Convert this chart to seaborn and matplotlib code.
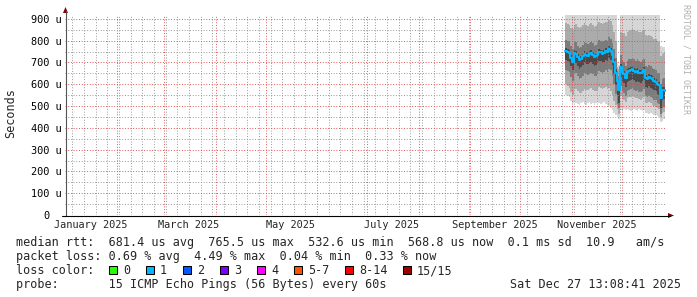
import matplotlib
matplotlib.use('Agg')
import matplotlib.pyplot as plt
import matplotlib.dates as mdates
import matplotlib.transforms as mtransforms
from matplotlib.ticker import MultipleLocator, FuncFormatter
from matplotlib.patches import Rectangle, Polygon
from matplotlib.lines import Line2D
import seaborn as sns
import pandas as pd

# ---------------- data (microseconds) ----------------
series_start = '2025-10-28'
median = [752, 748, 745, 722, 704, 743, 740, 725, 712, 718,
          728, 740, 735, 732, 738, 743, 736, 725, 728, 735,
          750, 746, 740, 745, 752, 748, 762, 755, 735, 700,
          652, 615, 575, 680, 658, 648, 629, 655, 660, 664,
          668, 662, 655, 660, 652, 650, 656, 664, 630, 626,
          634, 628, 622, 615, 612, 600, 596, 537, 572, 575,
          569]
outer_hi = [925, 930, 930, 930, 930, 930, 930, 930, 930, 930,
            930, 930, 930, 930, 930, 930, 930, 930, 930, 930,
            930, 930, 930, 930, 930, 930, 930, 930, 930, 930,
            930, 700, 690, 930, 930, 930, 930, 930, 930, 930,
            930, 930, 930, 930, 930, 930, 930, 930, 930, 930,
            930, 930, 930, 930, 930, 930, 930, 775, 770, 772,
            775]
outer_lo = [551, 545, 540, 522, 512, 520, 515, 510, 505, 512,
            518, 510, 505, 515, 520, 508, 512, 505, 515, 520,
            512, 508, 515, 518, 510, 505, 500, 490, 482, 470,
            460, 448, 440, 480, 478, 485, 482, 488, 480, 476,
            484, 486, 480, 478, 485, 482, 476, 480, 470, 468,
            465, 470, 462, 458, 460, 455, 450, 427, 430, 440,
            445]
mid_hi = [880, 875, 870, 860, 855, 870, 875, 865, 860, 865,
          870, 880, 872, 868, 875, 880, 870, 862, 868, 875,
          885, 880, 875, 880, 888, 884, 895, 890, 870, 840,
          800, 680, 670, 840, 830, 835, 820, 840, 845, 850,
          855, 850, 845, 848, 840, 838, 845, 850, 825, 820,
          828, 822, 818, 810, 808, 800, 795, 730, 740, 745,
          742]
mid_lo = [600, 592, 585, 565, 550, 580, 578, 568, 558, 562,
          570, 580, 575, 572, 578, 582, 576, 568, 570, 576,
          588, 584, 578, 582, 588, 580, 585, 570, 550, 525,
          505, 485, 465, 545, 535, 530, 518, 535, 540, 542,
          545, 540, 535, 538, 532, 530, 535, 540, 515, 512,
          518, 512, 506, 500, 498, 490, 485, 450, 468, 472,
          470]
inner_hi = [805, 800, 798, 775, 760, 795, 792, 778, 765, 772,
            780, 793, 788, 785, 790, 796, 789, 778, 781, 788,
            802, 798, 793, 798, 805, 800, 815, 808, 790, 760,
            720, 660, 640, 735, 712, 702, 685, 708, 714, 718,
            722, 716, 708, 714, 706, 704, 710, 718, 684, 680,
            688, 682, 676, 668, 665, 654, 650, 600, 625, 628,
            622]
inner_lo = [665, 660, 655, 632, 615, 652, 650, 636, 622, 630,
            640, 652, 646, 644, 648, 654, 648, 636, 640, 646,
            660, 656, 652, 656, 664, 658, 672, 664, 640, 600,
            555, 510, 490, 592, 572, 562, 545, 568, 574, 578,
            582, 576, 568, 574, 566, 564, 570, 578, 545, 540,
            548, 542, 536, 530, 526, 515, 510, 465, 490, 494,
            488]
core_hi = [765, 762, 758, 736, 718, 756, 754, 738, 725, 731,
           741, 753, 748, 745, 751, 756, 749, 738, 741, 748,
           763, 759, 753, 758, 765, 761, 775, 768, 750, 715,
           668, 630, 590, 694, 672, 662, 643, 669, 674, 678,
           682, 676, 669, 674, 666, 664, 670, 678, 644, 640,
           648, 642, 636, 629, 626, 614, 610, 552, 586, 589,
           583]
core_lo = [712, 708, 704, 682, 664, 702, 699, 684, 672, 678,
           688, 700, 694, 692, 697, 702, 695, 684, 687, 694,
           709, 705, 699, 704, 711, 707, 720, 713, 690, 645,
           595, 552, 515, 635, 615, 605, 588, 612, 617, 621,
           625, 619, 612, 617, 609, 607, 613, 621, 587, 583,
           591, 585, 579, 572, 569, 557, 553, 490, 530, 533,
           527]

label_months = ['2025-01-01', '2025-03-01', '2025-05-01',
                '2025-07-01', '2025-09-01', '2025-11-01']
loss_labels = ['0', '1', '2', '3', '4', '5-7', '8-14', '15/15']
loss_colors = ['#26ff00', '#00b8ff', '#0059ff', '#7e00ff',
               '#ff00ff', '#ff5500', '#ff0000', '#a00000']

line1 = "median rtt:  681.4 us avg  765.5 us max  532.6 us min  568.8 us now  0.1 ms sd  10.9   am/s"
line2 = "packet loss: 0.69 % avg  4.49 % max  0.04 % min  0.33 % now"
line3 = "loss color:"
line4 = "probe:       15 ICMP Echo Pings (56 Bytes) every 60s"
stamp = "Sat Dec 27 13:08:41 2025"

# ---------------- figure ----------------
sns.set_style('white')
plt.rcParams['font.family'] = ['DejaVu Sans Mono']

W, H = 697, 297
fig = plt.figure(figsize=(W / 100, H / 100), dpi=100)
fig.patch.set_facecolor('white')

def fx(x):
    return x / W

def fy(y):
    return 1 - y / H

L, R, T, B = 65, 666, 15, 215
ax = fig.add_axes([fx(L), fy(B), (R - L) / W, (B - T) / H])
ax.set_facecolor('white')

dates = pd.date_range(series_start, periods=len(median), freq='D')

bands = [(outer_lo, outer_hi, '#d6d6d6'),
         (mid_lo, mid_hi, '#ababab'),
         (inner_lo, inner_hi, '#7c7c7c'),
         (core_lo, core_hi, '#4a4a4a')]
for lo, hi, col in bands:
    ax.fill_between(dates, lo, hi, step='post', color=col, linewidth=0, zorder=1)

df = pd.DataFrame({'date': dates, 'median': median})
sns.lineplot(data=df, x='date', y='median', ax=ax, drawstyle='steps-post',
             color='#00b8ff', linewidth=1.5, zorder=3)

t0 = pd.Timestamp('2024-12-31 13:08:41')
t1 = pd.Timestamp('2025-12-27 13:08:41')
ax.set_xlim(t0, t1)
ax.set_ylim(0, 918)
ax.set_xlabel('')
ax.set_ylabel('')

# grid
ax.xaxis.set_major_locator(mdates.MonthLocator())
ax.xaxis.set_minor_locator(mdates.WeekdayLocator(byweekday=mdates.SU))
ax.yaxis.set_major_locator(MultipleLocator(100))
ax.yaxis.set_minor_locator(MultipleLocator(50))
ax.set_axisbelow('line')
ax.grid(which='minor', color=(0.55, 0.55, 0.55, 0.28), linestyle=(0, (1, 2)), linewidth=0.65)
ax.grid(which='major', color=(0.88, 0.25, 0.25, 0.38), linestyle=(0, (1, 2)), linewidth=0.65)

ax.xaxis.set_major_formatter(FuncFormatter(lambda v, p: ''))
ax.tick_params(axis='x', which='both', length=0)
ax.tick_params(axis='y', which='both', length=0, pad=2.2, labelsize=7.4, labelcolor='black')
ax.yaxis.set_major_formatter(FuncFormatter(lambda v, p: f"{int(round(v))} u" if v > 0 else "0  "))

for s in ['top', 'right', 'left', 'bottom']:
    ax.spines[s].set_visible(False)

# axes lines + arrows
fig.add_artist(Line2D([fx(65.5), fx(65.5)], [fy(215.5), fy(11)], color='#555555', linewidth=0.8))
fig.add_artist(Line2D([fx(62), fx(670)], [fy(215.5), fy(215.5)], color='#000000', linewidth=0.8))
fig.add_artist(Polygon([(fx(65.5), fy(7)), (fx(63), fy(13)), (fx(68), fy(13))],
                       closed=True, color='#7f0000', linewidth=0))
fig.add_artist(Polygon([(fx(674), fy(215.5)), (fx(668), fy(213)), (fx(668), fy(218))],
                       closed=True, color='#7f0000', linewidth=0))

# x labels, centred mid-month as rrdtool does
blend = mtransforms.blended_transform_factory(ax.transData, fig.transFigure)
for m in label_months:
    d = pd.Timestamp(m)
    ax.text(d + pd.Timedelta(days=15), fy(228.5), d.strftime('%B %Y'),
            transform=blend, ha='center', va='baseline', fontsize=7.4, clip_on=False)

# y unit label + watermark
fig.text(fx(11), fy(113), 'Seconds', rotation=90, ha='center', va='center', fontsize=8.5)
fig.text(fx(686), fy(4), 'RRDTOOL / TOBI OETIKER', rotation=270, ha='center', va='top',
         fontsize=6, color='#b0b0b0')

# legend lines
fs = 8.45
fig.text(fx(16), fy(246), line1, ha='left', va='baseline', fontsize=fs)
fig.text(fx(16), fy(260), line2, ha='left', va='baseline', fontsize=fs)
fig.text(fx(16), fy(274), line3, ha='left', va='baseline', fontsize=fs)
fig.text(fx(16), fy(288), line4, ha='left', va='baseline', fontsize=fs)
fig.text(fx(681), fy(288), stamp, ha='right', va='baseline', fontsize=fs)

x = 109
for lab, col in zip(loss_labels, loss_colors):
    fig.add_artist(Rectangle((fx(x), fy(273.5)), 8 / W, 8 / H, facecolor=col,
                             edgecolor='black', linewidth=0.75))
    fig.text(fx(x + 14), fy(274), lab, ha='left', va='baseline', fontsize=fs)
    x += 14 + 7 * len(lab) + 16

fig.savefig('out.png', dpi=100, facecolor='white')
